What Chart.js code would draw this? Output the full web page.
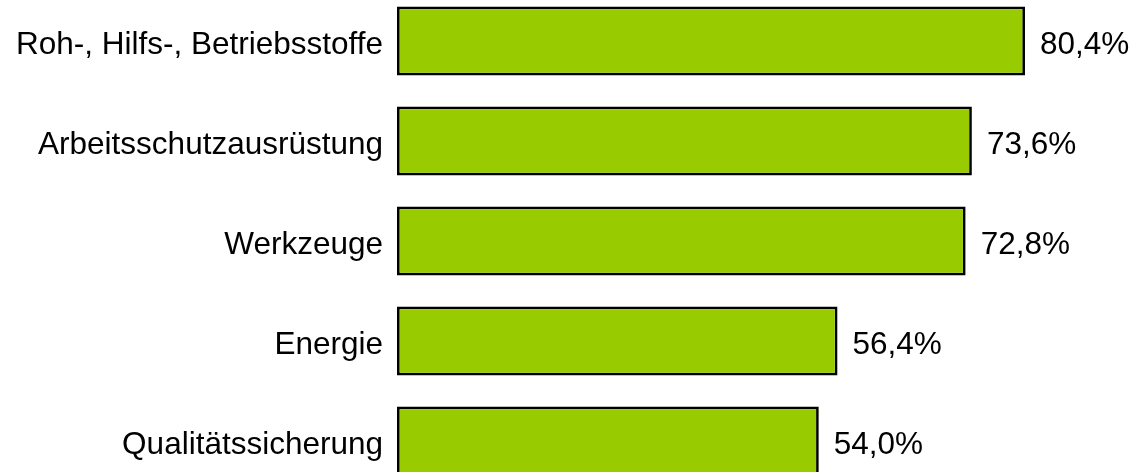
<!DOCTYPE html>
<html>
<head>
<meta charset="utf-8">
<script src="https://cdn.jsdelivr.net/npm/chart.js@4/dist/chart.umd.min.js"></script>
<style>
html,body{margin:0;padding:0;background:#fff;overflow:hidden;width:1132px;height:472px;}
#wrap{position:absolute;left:0;top:-9px;width:1132px;height:500px;}
</style>
</head>
<body>
<div id="wrap"><canvas id="c" width="1132" height="500"></canvas></div>
<script>
const categories = ["Roh-, Hilfs-, Betriebsstoffe", "Arbeitsschutzausrüstung", "Werkzeuge", "Energie", "Qualitätssicherung"];
const values = [80.4, 73.6, 72.8, 56.4, 54.0];
const valueLabels = ["80,4%", "73,6%", "72,8%", "56,4%", "54,0%"];

const FONT = "'Liberation Sans', Arial, sans-serif";
const FONT_SIZE = 31.5;

const valuePlugin = {
  id: 'valuePlugin',
  afterDatasetsDraw(chart) {
    const ctx = chart.ctx;
    const meta = chart.getDatasetMeta(0);
    ctx.save();
    ctx.font = FONT_SIZE + "px " + FONT;
    ctx.fillStyle = "#000";
    ctx.textAlign = "left";
    ctx.textBaseline = "middle";
    meta.data.forEach((bar, i) => {
      ctx.fillText(valueLabels[i], bar.x + 15, bar.y + 4);
    });
    ctx.restore();
  }
};

new Chart(document.getElementById('c'), {
  type: 'bar',
  data: {
    labels: categories,
    datasets: [{
      data: values,
      backgroundColor: '#99CC00',
      borderColor: '#000000',
      borderWidth: 2.7,
      borderSkipped: false,
      barPercentage: 0.69,
      categoryPercentage: 1.0
    }]
  },
  options: {
    indexAxis: 'y',
    responsive: false,
    animation: false,
    layout: { padding: 0 },
    plugins: { legend: { display: false }, tooltip: { enabled: false } },
    scales: {
      x: { display: false, min: 0, max: 94.1 },
      y: {
        grid: { display: false, drawTicks: false },
        border: { display: false },
        ticks: { color: '#000', font: { family: FONT, size: FONT_SIZE }, padding: 14, labelOffset: 4 },
        afterFit(scale) { scale.width = 397; scale.paddingTop = 0; scale.paddingBottom = 0; }
      }
    }
  },
  plugins: [valuePlugin]
});
</script>
</body>
</html>
